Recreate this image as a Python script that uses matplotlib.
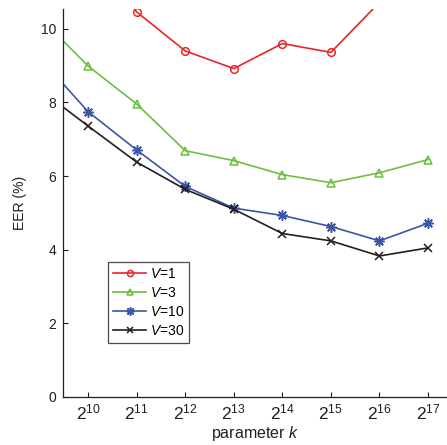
import matplotlib
matplotlib.use("Agg")
import matplotlib.pyplot as plt

plt.rcParams['font.family'] = ['Liberation Sans', 'DejaVu Sans']
plt.rcParams['mathtext.fontset'] = 'custom'
plt.rcParams['mathtext.rm'] = 'Liberation Sans'
plt.rcParams['mathtext.it'] = 'Liberation Sans:italic'

# exponents of parameter k (k = 2^exp)
exps = [9, 10, 11, 12, 13, 14, 15, 16, 17]
v1 = [13.5, 12.2, 10.46, 9.40, 8.92, 9.60, 9.36, 10.72, 11.8]
v3 = [10.32, 8.99, 7.96, 6.69, 6.42, 6.04, 5.82, 6.09, 6.45]
v10 = [9.22, 7.75, 6.71, 5.72, 5.13, 4.93, 4.63, 4.24, 4.72]
v30 = [8.36, 7.36, 6.38, 5.64, 5.10, 4.44, 4.24, 3.83, 4.05]
labels = ['$V$=1', '$V$=3', '$V$=10', '$V$=30']
xtick_exps = [10, 11, 12, 13, 14, 15, 16, 17]
yticks = [0, 2, 4, 6, 8, 10]

fig = plt.figure(figsize=(4.47, 4.45), dpi=100)
ax = fig.add_axes([0.1416, 0.1079, 0.8584, 0.872])

styles = [
    (v1, '#e8262a', 'o', 5.5, dict(markerfacecolor='none')),
    (v3, '#6cbf3f', '^', 6.0, dict(markerfacecolor='none')),
    (v10, '#3a56a5', (8, 2, 0), 7.5, dict()),
    (v30, '#231f20', 'x', 6.0, dict()),
]
for (vals, c, m, ms, kw), lab in zip(styles, labels):
    ax.plot(exps, vals, color=c, lw=1.2, marker=m, markersize=ms,
            markeredgewidth=1.1, markeredgecolor=c, label=lab, **kw)

ax.set_xlim(9.49, 17.39)
ax.set_ylim(0, 10.54)
ax.set_xticks(xtick_exps)
ax.set_xticklabels([f'$2^{{{e}}}$' for e in xtick_exps], fontsize=12.5)
ax.set_yticks(yticks)
ax.set_yticklabels([str(t) for t in yticks], fontsize=10)
ax.tick_params(direction='in', length=3.6, width=0.8, colors='#231f20',
               labelcolor='#231f20')
ax.tick_params(axis='x', pad=4)
ax.tick_params(axis='y', pad=5)
for s in ['top', 'right']:
    ax.spines[s].set_visible(False)
for s in ['left', 'bottom']:
    ax.spines[s].set_color('#231f20')
    ax.spines[s].set_linewidth(0.9)

ax.set_xlabel('parameter $k$', fontsize=11.5, color='#231f20', labelpad=1)
ax.set_ylabel('EER (%)', fontsize=10, color='#231f20', labelpad=10)

leg = ax.legend(loc='upper left', bbox_to_anchor=(0.1165, 0.347), fontsize=10,
                frameon=True, fancybox=False, edgecolor='#231f20',
                handlelength=2.4, borderpad=0.35, labelspacing=0.35,
                handletextpad=0.3, borderaxespad=0, markerscale=0.8)
leg.get_frame().set_linewidth(0.9)

fig.savefig('out.png', dpi=100)
